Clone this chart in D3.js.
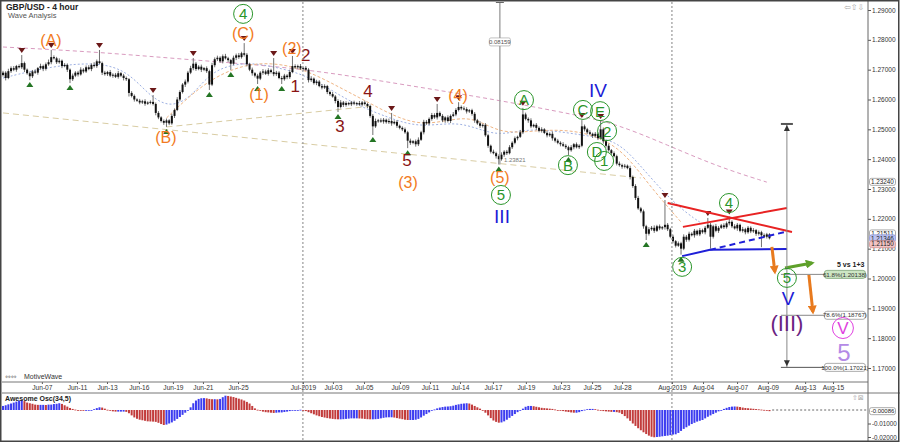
<!DOCTYPE html>
<html>
<head>
<meta charset="utf-8">
<script src="https://cdn.jsdelivr.net/npm/d3@7"></script>
<style>
  body { margin: 0; background: #fff; }
  svg { display: block; font-family: "Liberation Sans", Arial, sans-serif; }
</style>
</head>
<body>
<svg id="chart" width="900" height="442"></svg>
<script>
// GBP/USD 4h bars, prices in pips (12690 = 1.2690); open = previous close
var firstOpen = 12682;
var closes = [
  12690,12672,12695,12705,12700,12712,12708,12722,12700,12688,
  12678,12694,12690,12705,12712,12703,12718,12725,12742,12738,
  12725,12730,12712,12716,12700,12668,12680,12690,12684,12700,
  12694,12708,12702,12716,12712,12728,12722,12690,12685,12692,
  12680,12683,12676,12688,12680,12672,12668,12622,12612,12600,
  12596,12590,12594,12586,12590,12592,12585,12555,12540,12528,
  12522,12530,12520,12545,12565,12600,12625,12650,12660,12690,
  12705,12720,12702,12710,12700,12705,12695,12650,12715,12735,
  12740,12728,12745,12738,12732,12720,12740,12748,12742,12755,
  12750,12718,12700,12688,12680,12670,12690,12694,12686,12698,
  12692,12685,12690,12672,12668,12680,12675,12692,12712,12708,
  12712,12704,12706,12700,12665,12670,12655,12660,12645,12640,
  12645,12625,12618,12610,12595,12575,12590,12582,12588,12584,
  12590,12586,12588,12583,12590,12585,12578,12545,12510,12528,
  12530,12526,12532,12524,12528,12520,12525,12512,12505,12500,
  12490,12462,12455,12460,12450,12465,12490,12525,12520,12535,
  12548,12540,12555,12545,12530,12540,12528,12545,12550,12565,
  12575,12570,12568,12560,12564,12552,12530,12520,12512,12515,
  12480,12445,12425,12420,12410,12400,12415,12425,12420,12440,
  12455,12470,12475,12490,12550,12535,12530,12510,12515,12505,
  12495,12500,12488,12480,12485,12470,12462,12455,12450,12445,
  12440,12430,12440,12450,12440,12445,12510,12500,12490,12485,
  12478,12485,12470,12500,12460,12445,12430,12420,12410,12385,
  12380,12375,12378,12370,12340,12310,12270,12235,12225,12175,
  12150,12165,12170,12160,12175,12168,12172,12180,12165,12140,
  12125,12110,12118,12100,12140,12130,12150,12145,12160,12148,
  12162,12155,12170,12180,12140,12175,12160,12170,12178,12172,
  12185,12190,12175,12168,12180,12160,12165,12155,12170,12158,
  12162,12150,12155,12145,12140,12148,12135
];
var wickUp = [
  6,5,8,6,7,4,6,27,5,4, 6,5,7,4,8,5,6,9,24,6, 5,8,4,6,5,4,7,5,6,8,
  5,6,7,5,9,6,38,5,6,4, 7,5,6,8,4,6,5,4,6,5, 4,6,5,7,4,5,23,5,6,4,
  5,6,4,7,5,8,6,5,7,6, 8,19,6,5,7,4,6,5,8,6, 7,5,6,8,5,4,7,6,8,5,
  34,6,5,7,4,6,5,8,6,7, 5,47,6,5,7,6,5,8,34,6, 5,7,4,6,5,8,4,6,5,7,
  6,4,5,7,5,6,8,5,6,4, 5,6,4,7,5,6,4,5,6,8, 5,7,6,4,8,27,5,6,4,5,
  6,5,7,4,6,8,5,7,6,5, 7,6,30,5,6,4,7,5,8,6, 16,5,7,6,4,5,6,5,7,4,
  6,5,4,7,5,6,8,5,6,7, 5,6,4,8,22,6,5,7,4,6, 5,7,4,6,5,8,4,6,5,7,
  6,5,7,4,6,5,21,6,5,7, 4,6,5,28,6,5,7,4,6,5, 7,5,6,4,8,5,6,7,5,6,
  5,7,6,8,5,6,4,83,6,5, 7,4,6,5,8,6,7,5,6,4, 7,5,6,23,6,5,8,6,5,7,
  6,18,5,7,6,4,8,5,6,5, 7,4,6,5,6,5,4
];
var wickDown = [
  5,8,4,6,5,7,4,6,8,5, 13,6,4,7,5,8,6,5,7,4, 6,5,7,4,8,13,6,5,7,4,
  6,5,4,7,5,6,4,8,5,6, 5,7,4,6,5,8,6,12,5,7, 4,6,5,7,4,6,5,8,6,5,
  7,14,6,5,7,4,6,5,8,6, 5,7,6,4,8,5,6,18,5,7, 6,5,7,4,6,21,5,8,6,5,
  6,7,5,8,6,18,5,7,4,6, 5,7,6,4,16,5,7,6,4,5, 6,5,7,4,8,6,5,7,4,6,
  5,7,6,4,8,17,5,7,6,4, 6,5,7,4,6,5,7,6,29,5, 6,4,7,5,6,8,4,7,5,6,
  5,25,7,5,8,6,4,7,5,6, 6,5,7,4,6,8,5,7,4,6, 5,6,4,7,5,6,8,5,7,6,
  5,7,6,4,8,18,5,7,6,4, 6,5,7,4,6,5,8,6,4,7, 5,6,4,7,5,8,6,5,7,4,
  6,16,5,7,4,6,5,7,6,4, 7,5,6,4,8,6,5,7,4,6, 5,7,6,4,8,6,7,5,6,8,
  21,6,5,7,4,6,5,8,6,5, 7,6,4,20,5,7,6,4,8,5, 6,5,7,4,40,6,5,7,4,6,
  5,7,6,4,8,5,6,7,5,6, 5,7,6,40,5,6,4
];
// Awesome Oscillator (34,5), in pips
var aoValues = [
  30,35,42,48,55,62,70, 74,66,55,50,46, 40,38,38,38,37, 40,40,44,46,50,
  45,35,25,15,8,3,0, -4,-6,-6,-4,-2, 6,14,20,18,10, 2,-6,-10,-12,-12,-12,-12,-14,
  -24,-40,-55,-65,-72,-76, -80,-84,-85,-86,-88,-95,-104,
  -111,-108,-100,-92,-80,-66,-52,-36,-20,-6, 20,50,70,82,87,88, 86,82,80,80,79,82,
  95,106, 104,100,96,90,84,78,70,60,48,30, 12,2,-6,
  -12,-16,-18,-20,-22,-20,-18,-18,-15,-12,-8, -4,-2,0,2,0,
  -8,-16,-24,-32,-40,-46,-52,-56,-60,-63,-66,-68,-69,-69,-68,-66,
  -64,-62,-62,-62,-63,-64,-66,-68, -69,-69,-68,-66,-62,-58, -55,-54,-54,-56,-60,-64,
  -68,-72,-74,-74,-74,-72,-66,-55, -42,-30,-18,-6,4, 12,18,22,25,26,28,
  32,38,42,46,48,50,48, 40,30,20,10,0, -20,-40,-60,-78,-88,-94,
  -92,-84,-72,-58,-44,-30,-16,-4, 10,24,30,30,28,24,
  20,16,14,12,10,8,4,0,-4,-8,-12,-15,-18,-20,-20, -16,-8,2,6,8,8,6,2,
  -4,-8,-10,-12,-14,-14,-16,-20,-30,
  -45,-62,-80,-100,-118,-135,-150,-165,-178,-190,-198,-202,
  -200,-198,-195,-192,-190,-186,-182,-180,-170,-155,-140,
  -128,-116,-104,-95,-86,-80,-74, -62,-50,-40,-30,-20,-10,-2,
  8,16,22,25,26,25,22,18, 15,13,11,9,7,5,3,1,-4,-8.6
];
var peakBars = [7, 18, 36, 56, 71, 90, 101, 108, 145, 162, 170, 194, 216, 223, 247, 263, 271];
var troughBars = [10, 25, 61, 77, 85, 95, 104, 125, 138, 151, 185, 211, 240, 253];

// axes
var priceTicks = [1.29, 1.28, 1.27, 1.26, 1.25, 1.24, 1.23, 1.22, 1.21, 1.20, 1.19, 1.18, 1.17];
var dateLabels = ["Jun-07","Jun-11","Jun-13","Jun-16","Jun-19","Jun-21","Jun-25","Jul-2019","Jul-03","Jul-05",
  "Jul-09","Jul-11","Jul-14","Jul-17","Jul-19","Jul-23","Jul-25","Jul-28","Aug-2019","Aug-04","Aug-07","Aug-09","Aug-13","Aug-15"];
var dateBars = [14.5,27.6,38.8,50.7,63.4,74.6,87.7,111.9,123.1,134.7,148.1,159.3,170.5,182.8,195.1,208.2,219.8,231,249.6,261.2,273.9,285.4,299.3,309.7];
var monthStarts = ["Jul-2019", "Aug-2019"];
var oscTicks = [-0.01, -0.02];

// moving averages and trend lines: [bar, pips]
var maSlow = [[0,12776],[36,12759],[71,12732],[111,12706],[148,12652],[185,12598],[214,12548],[229,12518],[248,12447],[267,12374],[285,12323]];
var maFast = [[0,12672],[18,12712],[36,12726],[47,12692],[55,12608],[63,12571],[71,12615],[78,12699],[90,12726],[100,12712],[114,12682],[129,12592],[144,12538],[156,12504],[171,12531],[184,12471],[196,12508],[216,12481],[229,12464],[237,12387],[248,12273],[256,12213],[260,12189]];
var maMid = [[61,12538],[74,12649],[86,12706],[97,12726],[111,12709],[126,12639],[138,12582],[156,12498],[174,12558],[185,12481],[200,12498],[215,12498],[230,12447],[241,12313],[253,12189]];
var trendLines = [[[0,12555],[238,12337]], [[61,12508],[138,12578]]];

// triangle pattern and projections: [bar, price]
var redLines = [[[248,1.2253],[294.4,1.2156]], [[253.7,1.2173],[292.5,1.2236]]];
var blueSolid = [[253.4,1.2075],[263.8,1.2096],[292.5,1.2099]];
var blueDashed = [[263.8,1.2096],[291.8,1.2156]];
var orangeArrows = [[[286.9,1.2106],[288,1.2022]], [[300.7,1.2012],[302.2,1.1888]]];
var greenArrow = [[291.8,1.2035],[301.9,1.2052]];

// fibonacci extension
var fibBar = 292.5, fibLabelBar = 306.5, fibTop = 1.2518;
var fibLevels = [1.20138, 1.18767, 1.17021];
var fibNames = ["61.8%", "78.6%", "100.0%"];
var fibTitle = "5 vs 1+3";

// measuring tool
var measureBar = 185.4, measureLow = 1.23821, measureText = "0.08159";

// right axis value tags
var valueTags = [1.23240, 1.21511, 1.21346, 1.21150];
var valueTagKinds = ["ma", "high", "last", "low"];

// wave labels
var waveLabels = [
  {bar:17.9, price:1.2799, text:"(A)", degree:"minute"},
  {bar:60.8, price:1.2474, text:"(B)", degree:"minute"},
  {bar:89.6, price:1.2823, text:"(C)", degree:"minute"},
  {bar:95.5, price:1.2618, text:"(1)", degree:"minute"},
  {bar:107.8, price:1.2773, text:"(2)", degree:"minute"},
  {bar:151.1, price:1.2323, text:"(3)", degree:"minute"},
  {bar:169.8, price:1.2615, text:"(4)", degree:"minute"},
  {bar:185.4, price:1.2340, text:"(5)", degree:"minute"},
  {bar:109, price:1.2645, text:"1", degree:"minuette"},
  {bar:113, price:1.2749, text:"2", degree:"minuette"},
  {bar:125.7, price:1.2511, text:"3", degree:"minuette"},
  {bar:136.2, price:1.2628, text:"4", degree:"minuette"},
  {bar:150.7, price:1.2397, text:"5", degree:"minuette"},
  {bar:89.6, price:1.2887, text:"4", degree:"minor"},
  {bar:185.8, price:1.2280, text:"5", degree:"minor"},
  {bar:194.4, price:1.2598, text:"A", degree:"minor"},
  {bar:210.8, price:1.2380, text:"B", degree:"minor"},
  {bar:216.4, price:1.2565, text:"C", degree:"minor"},
  {bar:222.8, price:1.2561, text:"E", degree:"minor"},
  {bar:225.4, price:1.2494, text:"2", degree:"minor"},
  {bar:221.6, price:1.2424, text:"D", degree:"minor"},
  {bar:224.3, price:1.2394, text:"1", degree:"minor"},
  {bar:253.4, price:1.2039, text:"3", degree:"minor"},
  {bar:270.9, price:1.2253, text:"4", degree:"minor"},
  {bar:292.5, price:1.2002, text:"5", degree:"minor"},
  {bar:186.2, price:1.2209, text:"III", degree:"intermediate"},
  {bar:222, price:1.2632, text:"IV", degree:"intermediate"},
  {bar:292.9, price:1.1935, text:"V", degree:"intermediate"},
  {bar:292.5, price:1.1851, text:"(III)", degree:"primary"},
  {bar:313.4, price:1.1834, text:"V", degree:"target"},
  {bar:313.8, price:1.1754, text:"5", degree:"target5"}
];

var degreeStyle = {
  minute:       {color:"#f27a22", size:16, circle:false},
  minuette:     {color:"#8a1414", size:17, circle:false},
  minor:        {color:"#2a952a", size:15, circle:true, r:9.5},
  intermediate: {color:"#1c1cd6", size:19, circle:false},
  primary:      {color:"#6a2382", size:22, circle:false},
  target:       {color:"#e040e0", size:17, circle:true, r:10.5},
  target5:      {color:"#b48ae6", size:24, circle:false}
};

var axisFont = '"Liberation Sans", Arial, sans-serif';

var svg = d3.select('#chart');
var defs = svg.append('defs');
defs.append('clipPath').attr('id', 'mainClip').append('rect')
  .attr('x', 2).attr('y', 2).attr('width', 866).attr('height', 380);
defs.append('clipPath').attr('id', 'oscClip').append('rect')
  .attr('x', 2).attr('y', 394).attr('width', 866).attr('height', 46);

function arrowMarker(id, color) {
  defs.append('marker').attr('id', id)
    .attr('viewBox', '0 0 10 10').attr('refX', 7).attr('refY', 5)
    .attr('markerWidth', 3).attr('markerHeight', 3).attr('orient', 'auto')
    .append('path').attr('d', 'M0,0 L10,5 L0,10 z').attr('fill', color);
}
arrowMarker('arOrange', '#e87a1e');
arrowMarker('arGreen', '#5ea02a');

var x = d3.scaleLinear().domain([0, 100]).range([3, 271]);
var y = d3.scaleLinear().domain([1.17, 1.29]).range([368, 10]);
var yOsc = d3.scaleLinear().domain([-0.02, 0]).range([437, 410]);

svg.append('rect').attr('width', 900).attr('height', 442).attr('fill', '#fff');

var main = svg.append('g').attr('clip-path', 'url(#mainClip)');

// month separators
monthStarts.forEach(function(m) {
  var xb = x(dateBars[dateLabels.indexOf(m)]);
  svg.append('line').attr('x1', xb).attr('x2', xb).attr('y1', 2).attr('y2', 440)
    .attr('stroke', '#999').attr('stroke-width', 1.2).attr('stroke-dasharray', '2,2');
});

// MAs and trend lines
var pipLine = d3.line().x(function(d) { return x(d[0]); }).y(function(d) { return y(d[1] / 1e4); });
var smoothLine = d3.line().x(function(d) { return x(d[0]); }).y(function(d) { return y(d[1] / 1e4); }).curve(d3.curveBasis);
trendLines.forEach(function(t) {
  main.append('path').attr('d', pipLine(t)).attr('fill', 'none')
    .attr('stroke', '#d9cda4').attr('stroke-width', 1).attr('stroke-dasharray', '6,4');
});
main.append('path').attr('d', smoothLine(maSlow)).attr('fill', 'none')
  .attr('stroke', '#d99bbf').attr('stroke-width', 1).attr('stroke-dasharray', '4,3');
main.append('path').attr('d', smoothLine(maFast)).attr('fill', 'none')
  .attr('stroke', '#9db0e2').attr('stroke-width', 1).attr('stroke-dasharray', '2,2');
main.append('path').attr('d', smoothLine(maMid)).attr('fill', 'none')
  .attr('stroke', '#efb584').attr('stroke-width', 1).attr('stroke-dasharray', '3,2');

// price bars
var bars = d3.range(closes.length).map(function(i) {
  var o = i ? closes[i - 1] : firstOpen, c = closes[i];
  return {i: i, o: o / 1e4, c: c / 1e4,
    h: (Math.max(o, c) + wickUp[i]) / 1e4, l: (Math.min(o, c) - wickDown[i]) / 1e4};
});
main.selectAll('line.wick').data(bars).enter().append('line').attr('class', 'wick')
  .attr('x1', function(d) { return x(d.i); }).attr('x2', function(d) { return x(d.i); })
  .attr('y1', function(d) { return y(d.h); }).attr('y2', function(d) { return y(d.l); })
  .attr('stroke', '#707070').attr('stroke-width', 1);
main.selectAll('rect.body').data(bars).enter().append('rect').attr('class', 'body')
  .attr('x', function(d) { return x(d.i) - 1; }).attr('width', 2)
  .attr('y', function(d) { return y(Math.max(d.o, d.c)); })
  .attr('height', function(d) { return Math.max(1, Math.abs(y(d.o) - y(d.c))); })
  .attr('fill', '#111');

// swing markers
main.selectAll('path.peak').data(peakBars).enter().append('path')
  .attr('d', function(i) { var px = x(i), py = y(bars[i].h) - 2; return 'M' + px + ',' + py + 'l-3.5,-5h7z'; })
  .attr('fill', '#6b1818');
main.selectAll('path.trough').data(troughBars).enter().append('path')
  .attr('d', function(i) { var px = x(i), py = y(bars[i].l) + 2; return 'M' + px + ',' + py + 'l-3.5,5h7z'; })
  .attr('fill', '#247524');

// measuring tool
var mx = x(measureBar);
main.append('line').attr('x1', mx).attr('x2', mx).attr('y1', 0).attr('y2', y(measureLow))
  .attr('stroke', '#999').attr('stroke-width', 1.3);
main.append('rect').attr('x', mx - 4).attr('y', 0).attr('width', 8).attr('height', 3).attr('fill', '#666');
var mly = y(1.2793);
main.append('rect').attr('x', mx - 10.5).attr('y', mly - 4).attr('width', 21).attr('height', 8)
  .attr('fill', '#fff').attr('stroke', '#999').attr('stroke-width', 0.6).attr('rx', 1.5);
main.append('text').attr('x', mx).attr('y', mly + 2).attr('text-anchor', 'middle')
  .attr('font-size', 6).attr('fill', '#555').text(measureText);
main.append('text').attr('x', x(measureBar + 1.5)).attr('y', y(measureLow) - 3)
  .attr('font-size', 6).attr('fill', '#777').text(measureLow.toFixed(5));

// triangle pattern
redLines.forEach(function(l) {
  main.append('line').attr('x1', x(l[0][0])).attr('y1', y(l[0][1])).attr('x2', x(l[1][0])).attr('y2', y(l[1][1]))
    .attr('stroke', '#e82323').attr('stroke-width', 2);
});
var priceLine = d3.line().x(function(d) { return x(d[0]); }).y(function(d) { return y(d[1]); });
main.append('path').attr('d', priceLine(blueSolid)).attr('fill', 'none')
  .attr('stroke', '#1f1fd8').attr('stroke-width', 2);
main.append('path').attr('d', priceLine(blueDashed)).attr('fill', 'none')
  .attr('stroke', '#1f1fd8').attr('stroke-width', 2).attr('stroke-dasharray', '6,4');

orangeArrows.forEach(function(a) {
  main.append('path').attr('d', priceLine(a)).attr('stroke', '#e87a1e').attr('stroke-width', 3)
    .attr('fill', 'none').attr('marker-end', 'url(#arOrange)');
});
main.append('path').attr('d', priceLine(greenArrow)).attr('stroke', '#5ea02a').attr('stroke-width', 3)
  .attr('fill', 'none').attr('marker-end', 'url(#arGreen)');

// fib tool
var fx = x(fibBar), fy0 = y(fibTop), fy1 = y(fibLevels[fibLevels.length - 1]);
main.append('line').attr('x1', fx).attr('x2', fx).attr('y1', fy0).attr('y2', fy1)
  .attr('stroke', '#888').attr('stroke-width', 1);
main.append('line').attr('x1', fx - 6).attr('x2', fx + 6).attr('y1', fy0).attr('y2', fy0)
  .attr('stroke', '#555').attr('stroke-width', 2);
main.append('path').attr('d', 'M' + fx + ',' + (fy0 + 1) + 'l-3,6h6z').attr('fill', '#333');
main.append('path').attr('d', 'M' + fx + ',' + (fy1 - 1) + 'l-3,-6h6z').attr('fill', '#333');
fibLevels.forEach(function(lv, k) {
  var ly = y(lv), lx = x(fibLabelBar);
  main.append('line').attr('x1', fx - 6).attr('x2', lx).attr('y1', ly).attr('y2', ly)
    .attr('stroke', k === fibLevels.length - 1 ? '#555' : '#888').attr('stroke-width', 1);
  main.append('rect').attr('x', lx).attr('y', ly - 4).attr('width', 41).attr('height', 8).attr('rx', 2.5)
    .attr('fill', k === 0 ? '#cde6c4' : '#fff').attr('stroke', k === 0 ? '#6f9a68' : '#888').attr('stroke-width', 0.7);
  main.append('text').attr('x', lx + 20.5).attr('y', ly + 2.2).attr('text-anchor', 'middle')
    .attr('font-size', 6.2).attr('fill', '#333').text(fibNames[k] + '(' + lv.toFixed(5) + ')');
});
main.append('text').attr('x', x(fibLabelBar) + 40).attr('y', y(fibLevels[0]) - 7).attr('text-anchor', 'end')
  .attr('font-size', 7).attr('font-weight', 'bold').attr('fill', '#222').text(fibTitle);

// wave labels
waveLabels.forEach(function(w) {
  var s = degreeStyle[w.degree], lx = x(w.bar), ly = y(w.price);
  if (s.circle) {
    main.append('circle').attr('cx', lx).attr('cy', ly).attr('r', s.r)
      .attr('fill', 'none').attr('stroke', s.color).attr('stroke-width', 1);
  }
  main.append('text').attr('x', lx).attr('y', ly).attr('dy', '0.36em').attr('text-anchor', 'middle')
    .attr('font-size', s.size).attr('fill', s.color).text(w.text);
});

// titles
svg.append('text').attr('x', 6).attr('y', 10).attr('font-size', 8.5).attr('font-weight', 'bold')
  .attr('fill', '#222').text('GBP/USD - 4 hour');
svg.append('text').attr('x', 8).attr('y', 18).attr('font-size', 7.5).attr('fill', '#555').text('Wave Analysis');
svg.append('text').attr('x', 844).attr('y', 10).attr('font-size', 8).attr('fill', '#aaa')
  .style('font-family', 'DejaVu Sans').text('⇦⇧⇩');
svg.append('text').attr('x', 5).attr('y', 379).attr('font-size', 7).attr('fill', '#888')
  .style('font-family', 'DejaVu Sans').text('⇔⇔');
svg.append('text').attr('x', 24).attr('y', 379).attr('font-size', 7).attr('fill', '#333').text('MotiveWave');

// right price axis
var yAxis = svg.append('g').attr('transform', 'translate(868,0)')
  .call(d3.axisRight(y).tickValues(priceTicks).tickSize(3).tickPadding(1)
    .tickFormat(function(d) { return d.toFixed(5); }));
yAxis.select('.domain').remove();
yAxis.selectAll('text').attr('font-size', 6.5).attr('fill', '#333').style('font-family', axisFont);
yAxis.selectAll('line').attr('stroke', '#555');

var tagFill = {ma: '#fff', high: '#fff', last: '#bcc3f2', low: '#f2c4c4'};
var tagStroke = {ma: '#888', high: '#888', last: '#7f88d0', low: '#d08a8a'};
valueTags.forEach(function(v, k) {
  var ty = y(v);
  svg.append('rect').attr('x', 869.5).attr('y', ty - 3.5).attr('width', 26).attr('height', 7).attr('rx', 2)
    .attr('fill', tagFill[valueTagKinds[k]]).attr('stroke', tagStroke[valueTagKinds[k]]).attr('stroke-width', 0.7);
  svg.append('text').attr('x', 882.5).attr('y', ty + 2.3).attr('text-anchor', 'middle')
    .attr('font-size', 6.3).attr('fill', '#222').text(v.toFixed(5));
});

// date axis
var xAxis = svg.append('g').attr('transform', 'translate(0,382)')
  .call(d3.axisBottom(x).tickValues(dateBars).tickSize(2).tickPadding(1)
    .tickFormat(function(d, i) { return dateLabels[i]; }));
xAxis.select('.domain').remove();
xAxis.selectAll('text').attr('font-size', 6.6).attr('fill', '#333').style('font-family', axisFont);
xAxis.selectAll('line').attr('stroke', '#555');

// panel lines
svg.append('line').attr('x1', 2).attr('x2', 868).attr('y1', 382).attr('y2', 382).attr('stroke', '#777');
svg.append('line').attr('x1', 2).attr('x2', 900).attr('y1', 393).attr('y2', 393).attr('stroke', '#777');
svg.append('line').attr('x1', 868).attr('x2', 868).attr('y1', 0).attr('y2', 442).attr('stroke', '#666');

// oscillator
var osc = svg.append('g').attr('clip-path', 'url(#oscClip)');
osc.selectAll('rect').data(aoValues).enter().append('rect')
  .attr('x', function(d, i) { return x(i) - 1; }).attr('width', 2)
  .attr('y', function(d) { return yOsc(Math.max(d, 0) / 1e4); })
  .attr('height', function(d) { return Math.max(0.8, Math.abs(yOsc(d / 1e4) - yOsc(0))); })
  .attr('fill', function(d, i) { return (i === 0 || d >= aoValues[i - 1]) ? '#3d3df0' : '#c23c3c'; });
svg.append('line').attr('x1', x(aoValues.length)).attr('x2', 868).attr('y1', yOsc(0)).attr('y2', yOsc(0))
  .attr('stroke', '#666').attr('stroke-dasharray', '2,2');
svg.append('text').attr('x', 5).attr('y', 401).attr('font-size', 7).attr('font-weight', 'bold')
  .attr('fill', '#222').text('Awesome Osc(34,5)');
svg.append('text').attr('x', 852).attr('y', 400).attr('font-size', 7).attr('fill', '#aaa')
  .style('font-family', 'DejaVu Sans').text('⇧⊠');

var oAxis = svg.append('g').attr('transform', 'translate(868,0)')
  .call(d3.axisRight(yOsc).tickValues(oscTicks).tickSize(3).tickPadding(1)
    .tickFormat(function(d) { return d.toFixed(5); }));
oAxis.select('.domain').remove();
oAxis.selectAll('text').attr('font-size', 6.3).attr('fill', '#333').style('font-family', axisFont);
oAxis.selectAll('line').attr('stroke', '#555');
var lastAo = aoValues[aoValues.length - 1] / 1e4;
svg.append('rect').attr('x', 869.5).attr('y', yOsc(lastAo) - 3.5).attr('width', 26).attr('height', 7).attr('rx', 2)
  .attr('fill', '#fff').attr('stroke', '#888').attr('stroke-width', 0.7);
svg.append('text').attr('x', 882.5).attr('y', yOsc(lastAo) + 2.3).attr('text-anchor', 'middle')
  .attr('font-size', 6).attr('fill', '#222').text(lastAo.toFixed(5));

// frame
svg.append('rect').attr('x', 0.75).attr('y', 0.75).attr('width', 898).attr('height', 440.5)
  .attr('fill', 'none').attr('stroke', '#444').attr('stroke-width', 1.5);
</script>
</body>
</html>
